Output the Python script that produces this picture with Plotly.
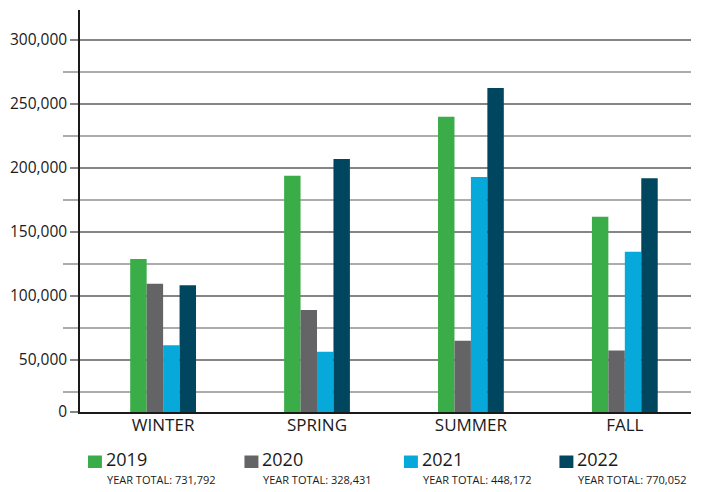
import plotly.graph_objects as go

seasons = ["WINTER", "SPRING", "SUMMER", "FALL"]
years = ["2019", "2020", "2021", "2022"]
values = {
    "2019": [129000, 194000, 240000, 162000],
    "2020": [109500, 89000, 65000, 57500],
    "2021": [61500, 56500, 193000, 134500],
    "2022": [108500, 207000, 262500, 192000],
}
year_totals = ["731,792", "328,431", "448,172", "770,052"]
colors = ["#3aad48", "#646467", "#06a9d9", "#00465f"]

y_major = [50000, 100000, 150000, 200000, 250000, 300000]
y_minor = [25000, 75000, 125000, 175000, 225000, 275000]
y_bottom = 9400
y_top = 323400

fig = go.Figure()
for yr, c in zip(years, colors):
    fig.add_trace(go.Bar(x=seasons, y=values[yr], name=yr, marker=dict(color=c, line=dict(width=0)),
                         showlegend=False))

# page body has an 8px offset; figure sized to fit the 704x492 window
OFF = 8
W, H = 704 - OFF, 492 - OFF
L, T = 78 - OFF, 10 - OFF
plot_right, plot_bottom = 691 - OFF, 412 - OFF
R, B = W - plot_right, H - plot_bottom
pw, ph = plot_right - L, plot_bottom - T

def px(x):
    return (x - OFF - L) / pw

def py(y):
    return (plot_bottom - (y - OFF)) / ph

shapes = []
annotations = []
legend_x = [86, 243, 403, 559]
for i, (yr, c, tot) in enumerate(zip(years, colors, year_totals)):
    x0 = legend_x[i]
    shapes.append(dict(type="rect", xref="paper", yref="paper",
                       x0=px(x0), x1=px(x0 + 14), y0=py(468), y1=py(455.5),
                       fillcolor=c, line=dict(width=0)))
    annotations.append(dict(text=yr, xref="paper", yref="paper", x=px(x0 + 17), y=py(471.5),
                            xanchor="left", yanchor="bottom", showarrow=False, borderpad=0,
                            font=dict(size=18, color="#1a1a1a", family="Open Sans")))
    annotations.append(dict(text="YEAR TOTAL: " + tot, xref="paper", yref="paper",
                            x=px(x0 + 18), y=py(471), xanchor="left", yanchor="top",
                            showarrow=False, borderpad=0,
                            font=dict(size=11, color="#1a1a1a", family="Open Sans")))

fig.update_layout(
    width=W, height=H,
    margin=dict(l=L, r=R, t=T, b=B),
    plot_bgcolor="white", paper_bgcolor="white",
    barmode="group", bargap=0.5725, bargroupgap=0,
    font=dict(family="Open Sans", color="#1a1a1a"),
    shapes=shapes, annotations=annotations,
    xaxis=dict(range=[-0.54, 3.43], showgrid=False, showline=True, linecolor="#1a1a1a",
               linewidth=1.5, ticks="", ticklabelstandoff=-3,
               tickfont=dict(size=17, color="#1a1a1a")),
    yaxis=dict(range=[y_bottom, y_top], tickmode="array",
               tickvals=[y_bottom] + y_major,
               ticktext=["0"] + [f"{v:,}" for v in y_major],
               showgrid=True, gridcolor="#858585", gridwidth=1.5,
               ticks="outside", ticklen=8, tickcolor="#858585", tickwidth=1.5,
               showline=True, linecolor="#1a1a1a", linewidth=1.5,
               zeroline=False, tickfont=dict(size=15.5, color="#1a1a1a"),
               minor=dict(tickmode="array", tickvals=y_minor, showgrid=True,
                          gridcolor="#acacac", gridwidth=1.5, ticks="outside",
                          ticklen=15, tickcolor="#acacac", tickwidth=1.5)),
)

fig.write_html("out.html")
